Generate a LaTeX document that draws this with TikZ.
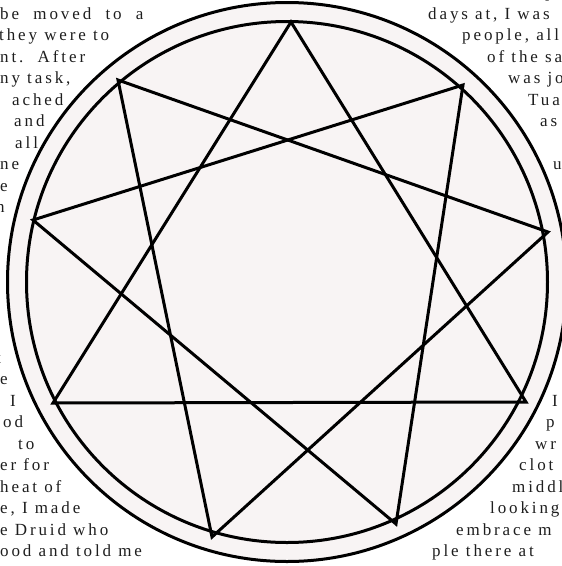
\documentclass[tikz,border=0pt]{standalone}
\usepackage{fontspec}
\newfontfamily\txtfont[LetterSpace=17]{Liberation Serif}
\definecolor{disc}{HTML}{F8F4F4}
\definecolor{ink}{HTML}{1E1E1E}
\begin{document}
\begin{tikzpicture}[x=1pt,y=-1pt,
  txt/.style={anchor=base west, inner sep=0pt, font=\txtfont\fontsize{17}{20}\selectfont, text=ink},
  ring/.style={line width=3pt, draw=black},
  starline/.style={line width=3pt, draw=black, line join=miter}]
\useasboundingbox (0,0) rectangle (562,566);
\clip (0,0) rectangle (562,566);
\fill[white] (0,0) rectangle (562,566);
% left text
\node[txt] (l0) at (0,19) {be\ \ moved\ \ to\ \ a};
\node[txt] (l1) at (-1,40.5) {they were to};
\node[txt] (l2) at (0,62) {nt.\ \ After};
\node[txt] (l3) at (0,83.5) {ny task,};
\node[txt] (l4) at (12,105) {ached};
\node[txt] (l5) at (14,126.5) {and};
\node[txt] (l6) at (15,148) {all};
\node[txt] (l7) at (0,169.5) {ne};
\node[txt] (l8) at (0,191) {e};
\node[txt] (l9) at (-4,212.5) {n};
\node[txt] (l16) at (-4,363) {t};
\node[txt] (l17) at (0,384.5) {e};
\node[txt] (l18) at (10,406) {I};
\node[txt] (l19) at (3,427.5) {od};
\node[txt] (l20) at (18,449) {to};
\node[txt] (l21) at (0,470.5) {er for};
\node[txt] (l22) at (0,492) {heat of};
\node[txt] (l23) at (0,513.5) {e, I made};
\node[txt] (l24) at (0,535) {e Druid who};
\node[txt] (l25) at (0,556.5) {ood and told me};
% right text
\node[txt] (rm1) at (545,-2.5) {p};
\node[txt] (r0) at (428,19) {days at, I was};
\node[txt] (r1) at (462,40.5) {people, all};
\node[txt] (r2) at (487,62) {of the sa};
\node[txt] (r3) at (508,83.5) {was jo};
\node[txt] (r4) at (528,105) {Tuat};
\node[txt] (r5) at (540,126.5) {as};
\node[txt] (r7) at (553,169.5) {u};
\node[txt] (r18) at (552,406) {I};
\node[txt] (r19) at (546,427.5) {p};
\node[txt] (r20) at (535,449) {wr};
\node[txt] (r21) at (519,470.5) {clot};
\node[txt] (r22) at (512,492) {middl};
\node[txt] (r23) at (490,513.5) {looking};
\node[txt] (r24) at (456,535) {embrace m};
\node[txt] (r25) at (432,556.5) {ple there at};
% disc
\coordinate (O) at (287,282);
\fill[disc] (O) circle[radius=279.5];
% star vertices
\coordinate (A) at (291,22);
\coordinate (B) at (463,85);
\coordinate (C) at (548,232);
\coordinate (D) at (526,402);
\coordinate (E) at (396,524);
\coordinate (F) at (212,537);
\coordinate (G) at (53,403);
\coordinate (H) at (33,220);
\coordinate (I) at (118,80);
\draw[ring] (O) circle[radius=279.5];
\draw[ring] (O) circle[radius=260.5];
\draw[starline] (A) -- (D) -- (G) -- cycle;
\draw[starline] (I) -- (F) -- (C) -- cycle;
\draw[starline] (B) -- (H) -- (E) -- cycle;
\end{tikzpicture}
\end{document}
